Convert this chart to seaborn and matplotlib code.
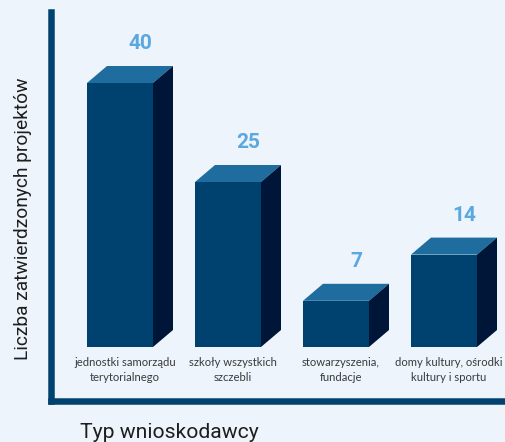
import matplotlib
matplotlib.use("Agg")
import matplotlib.pyplot as plt
from matplotlib.patches import Polygon
import seaborn as sns
import pandas as pd

categories = [
    "jednostki samorządu\nterytorialnego",
    "szkoły wszystkich\nszczebli",
    "stowarzyszenia,\nfundacje",
    "domy kultury, ośrodki\nkultury i sportu",
]
values = [40, 25, 7, 14]
y_title = "Liczba zatwierdzonych projektów"
x_title = "Typ wnioskodawcy"

BG = "#edf4fb"
FRONT = "#00426f"
TOP = "#1f6d9f"
SIDE = "#001638"
VALUE_C = "#5ba8e0"
AXIS_C = "#00426f"

sns.set_theme(style="white")
plt.rcParams["font.family"] = ["Lato", "DejaVu Sans"]

W, H, DPI = 505, 442, 100
fig = plt.figure(figsize=(W / DPI, H / DPI), dpi=DPI, facecolor=BG)

# axes box in pixels: left spine at x=50, bottom spine at y=401, top at y=12
ax_l, ax_r, ax_t, ax_b = 50.5, 505, 12, 401
ax = fig.add_axes([ax_l / W, 1 - ax_b / H, (ax_r - ax_l) / W, (ax_b - ax_t) / H])
ax.set_facecolor(BG)

df = pd.DataFrame({"cat": categories, "val": values})
bar_w = 66 / 108
sns.barplot(data=df, x="cat", y="val", color=FRONT, saturation=1,
            width=bar_w, ax=ax, zorder=3)

# scale: 108 px per category step, 6.6 px per unit value, baseline at y=347
px_x = 108.0
px_y = 6.6
x0 = -(120 - ax_l) / px_x
ax.set_xlim(x0, x0 + (ax_r - ax_l) / px_x)
ax.set_ylim(-(ax_b - 347) / px_y, (347 - ax_t) / px_y)

dx = 20 / px_x
dy = 17 / px_y
for p, v, cat in zip(ax.patches, values, categories):
    p.set_edgecolor("none")
    x1 = p.get_x()
    x2 = x1 + p.get_width()
    top = p.get_height()
    ax.add_patch(Polygon([(x1, top), (x1 + dx, top + dy), (x2 + dx, top + dy), (x2, top)],
                         closed=True, facecolor=TOP, edgecolor="none", zorder=3))
    ax.add_patch(Polygon([(x2, 0), (x2 + dx, dy), (x2 + dx, top + dy), (x2, top)],
                         closed=True, facecolor=SIDE, edgecolor="none", zorder=3))
    cx = x1 + p.get_width() / 2
    ax.annotate(f"{v}", (cx, top + dy), xytext=(20, 22), textcoords="offset pixels",
                ha="center", va="center", fontsize=15, fontweight="bold",
                color=VALUE_C, family=["Roboto", "DejaVu Sans"])
    ax.annotate(cat, (cx, 0), xytext=(5, -10),
                textcoords="offset pixels", ha="center", va="top", fontsize=8.1,
                color="#3a3a3a", linespacing=1.4)

ax.set_xticks([])
ax.set_yticks([])
ax.set_xlabel("")
ax.set_ylabel("")
for s in ["top", "right"]:
    ax.spines[s].set_visible(False)
for s in ["left", "bottom"]:
    ax.spines[s].set_color(AXIS_C)
    ax.spines[s].set_linewidth(6.5 * 72 / DPI)
    ax.spines[s].set_capstyle("projecting")

title_font = ["Roboto", "DejaVu Sans"]
ty = fig.text(23 / W, 1 - 219 / H, y_title, rotation=90, ha="center", va="center",
              fontsize=16, color="#1e1e1e", family=title_font)
tx = fig.text(80 / W, 1 - 432 / H, x_title, ha="left", va="center",
              fontsize=18, color="#1e1e1e", family=title_font)

# size the axis titles to their intended lengths
renderer = fig.canvas.get_renderer()
for t, length, attr in [(ty, 282, "height"), (tx, 178, "width")]:
    ext = t.get_window_extent(renderer)
    t.set_fontsize(t.get_fontsize() * length / getattr(ext, attr))

fig.savefig("out.png", dpi=DPI, facecolor=BG)
